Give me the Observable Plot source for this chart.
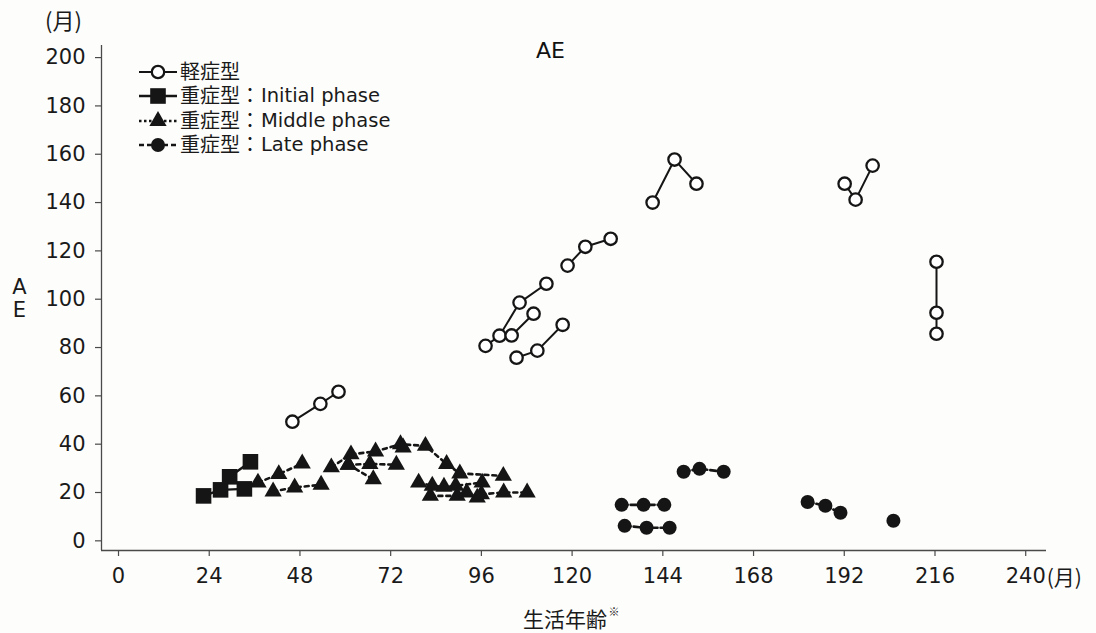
<!DOCTYPE html>
<html>
<head>
<meta charset="utf-8">
<script src="https://cdn.jsdelivr.net/npm/d3@7"></script>
<script src="https://cdn.jsdelivr.net/npm/@observablehq/plot@0.6"></script>
<style>
  html, body { margin: 0; padding: 0; background: #fdfdfb; }
  #wrap { position: relative; width: 1096px; height: 633px; }
  #legend { position: absolute; left: 138px; top: 59.5px; font-family: "DejaVu Sans", "Noto Sans CJK JP", sans-serif; color: #1a1a1a; }
  #legend .row { display: flex; align-items: center; height: 24.5px; white-space: nowrap; }
  #legend .cjk { font-size: 20px; line-height: 22px; }
  #legend .lat { font-size: 19.5px; line-height: 22px; font-family: "DejaVu Sans", sans-serif; padding-left: 1px; }
  #legend svg { display: block; flex: none; }
</style>
</head>
<body>
<div id="wrap"></div>
<script>
// ---- Data (months, AE in months) ----
const xTicks = [0, 24, 48, 72, 96, 120, 144, 168, 192, 216, 240];
const yTicks = [0, 20, 40, 60, 80, 100, 120, 140, 160, 180, 200];
const legendLabels = ["軽症型", "重症型：Initial phase", "重症型：Middle phase", "重症型：Late phase"];

// 軽症型 (mild), each inner array is one connected case
const mild = [
  [[46.0, 49.3], [53.4, 56.7], [58.2, 61.7]],
  [[97.1, 80.7], [100.8, 84.9], [106.1, 98.6], [113.2, 106.4]],
  [[104.0, 85.0], [109.8, 94.0]],
  [[105.3, 75.8], [110.8, 78.7], [117.5, 89.4]],
  [[118.8, 113.9], [123.5, 121.7], [130.2, 125.0]],
  [[141.3, 140.0], [147.1, 157.8], [152.9, 147.8]],
  [[192.1, 147.8], [195.0, 141.2], [199.5, 155.3]],
  [[216.4, 115.5], [216.4, 94.4], [216.4, 85.7]]
];

// 重症型 Initial phase
const initial = [
  [[22.5, 18.6], [27.0, 21.1], [33.3, 21.5]],
  [[29.4, 26.5], [34.9, 32.7]]
];

// 重症型 Middle phase
const middle = [
  [[36.9, 24.1], [42.4, 27.6], [48.6, 32.0]],
  [[40.9, 20.4], [46.6, 22.1], [53.6, 23.2]],
  [[56.3, 30.4], [61.5, 35.8], [68.0, 37.0], [74.6, 40.0], [81.2, 39.3], [86.8, 31.8], [90.3, 27.9], [101.8, 26.9]],
  [[60.8, 31.5], [66.5, 31.8], [73.5, 31.5]],
  [[60.8, 31.5], [67.4, 25.5]],
  [[75.3, 38.6]],
  [[79.4, 24.1], [83.0, 22.8], [86.1, 22.4], [89.2, 22.8], [96.2, 24.1]],
  [[82.5, 18.6], [89.6, 18.6], [92.1, 20.0], [94.9, 17.9]],
  [[96.0, 19.3], [101.9, 20.0], [108.1, 20.0]]
];

// 重症型 Late phase
const late = [
  [[133.1, 14.9], [138.9, 14.9], [144.4, 14.9]],
  [[133.9, 6.2], [139.7, 5.4], [145.8, 5.4]],
  [[149.5, 28.6], [153.7, 29.8], [160.1, 28.6]],
  [[182.3, 16.1], [187.0, 14.5], [191.0, 11.6]],
  [[205.0, 8.3]]
];

const rows = (series) => series.flatMap((s, g) => s.map(([m, v]) => ({g, m, v})));
const mildRows = rows(mild), initialRows = rows(initial), middleRows = rows(middle), lateRows = rows(late);

const INK = "#151515";
const AXIS = "#4a4a4a";
const TICKFONT = "DejaVu Sans";

const chart = Plot.plot({
  width: 1096,
  height: 633,
  marginLeft: 101,
  marginRight: 50,
  marginTop: 45,
  marginBottom: 83,
  x: {domain: [-4.5, 245.5]},
  y: {domain: [-4, 205]},
  style: {background: "transparent", fontFamily: TICKFONT, fontSize: "21px", color: "#1a1a1a"},
  marks: [
    Plot.axisX({ticks: xTicks, tickSize: 6, tickPadding: 12, label: null, stroke: AXIS, strokeWidth: 1.2, fontSize: 21, fontFamily: TICKFONT, tickFormat: d => String(d)}),
    Plot.axisY({ticks: yTicks, tickSize: 6, tickPadding: 10, label: null, stroke: AXIS, strokeWidth: 1.2, fontSize: 21, fontFamily: TICKFONT}),
    Plot.ruleX([-4.5], {stroke: AXIS, strokeWidth: 1.3}),
    Plot.ruleY([-4], {stroke: AXIS, strokeWidth: 1.3}),

    // lines
    Plot.line(mildRows, {x: "m", y: "v", z: "g", stroke: INK, strokeWidth: 2}),
    Plot.line(initialRows, {x: "m", y: "v", z: "g", stroke: INK, strokeWidth: 2.4}),
    Plot.line(middleRows, {x: "m", y: "v", z: "g", stroke: INK, strokeWidth: 2.6, strokeDasharray: "4,4"}),
    Plot.line(lateRows, {x: "m", y: "v", z: "g", stroke: INK, strokeWidth: 2.6, strokeDasharray: "6,3"}),

    // markers
    Plot.dot(middleRows, {x: "m", y: "v", symbol: "triangle", r: 6.4, fill: INK, stroke: "none"}),
    Plot.dot(initialRows, {x: "m", y: "v", symbol: "square", r: 8.8, fill: INK, stroke: "none"}),
    Plot.dot(lateRows, {x: "m", y: "v", r: 7, fill: INK, stroke: "none"}),
    Plot.dot(mildRows, {x: "m", y: "v", r: 6.2, fill: "white", stroke: INK, strokeWidth: 2.3}),

    // texts
    Plot.text(["AE"], {frameAnchor: "top", dx: -23.5, dy: 5, fontSize: 22, fontFamily: "DejaVu Sans", textAnchor: "middle", lineAnchor: "middle", fill: "#111"}),
    Plot.text(["(月)"], {frameAnchor: "top-left", dx: -38, dy: -24, fontSize: 22, fontFamily: "Noto Sans CJK JP", textAnchor: "middle", lineAnchor: "middle", fill: "#1a1a1a"}),
    Plot.text(["A\nE"], {frameAnchor: "left", dx: -82, dy: 0, fontSize: 21, fontFamily: "DejaVu Sans", lineHeight: 1.1, textAnchor: "middle", lineAnchor: "middle", fill: "#1a1a1a"}),
    Plot.text([240], {x: d => d, frameAnchor: "bottom", dx: 21, dy: 28, text: () => "(月)", fontSize: 21, fontFamily: "Noto Sans CJK JP", textAnchor: "start", lineAnchor: "middle", fill: "#1a1a1a"}),
    Plot.text(["生活年齢"], {frameAnchor: "bottom", dx: -9, dy: 70, fontSize: 21, fontFamily: "Noto Sans CJK JP", textAnchor: "middle", lineAnchor: "middle", fill: "#1a1a1a"}),
    Plot.text(["※"], {frameAnchor: "bottom", dx: 40, dy: 62, fontSize: 11, fontFamily: "Noto Sans CJK JP", textAnchor: "middle", lineAnchor: "middle", fill: "#1a1a1a"})
  ]
});

const wrap = document.getElementById("wrap");
wrap.appendChild(chart);

// legend (HTML overlay)
const legend = document.createElement("div");
legend.id = "legend";
const sym = [
  `<line x1="1" y1="12" x2="39" y2="12" stroke="${INK}" stroke-width="2"/><circle cx="20" cy="12" r="6.2" fill="white" stroke="${INK}" stroke-width="2.3"/>`,
  `<line x1="1" y1="12" x2="39" y2="12" stroke="${INK}" stroke-width="2.4"/><rect x="12.2" y="4.2" width="15.6" height="15.6" fill="${INK}"/>`,
  `<line x1="1" y1="12" x2="39" y2="12" stroke="${INK}" stroke-width="2.4" stroke-dasharray="2.5,2.5"/><path d="${d3.symbol(d3.symbolTriangle, Math.PI * 6.4 * 6.4)()}" transform="translate(20,12)" fill="${INK}"/>`,
  `<line x1="1" y1="12" x2="39" y2="12" stroke="${INK}" stroke-width="2.4" stroke-dasharray="5,3"/><circle cx="20" cy="12" r="7" fill="${INK}"/>`
];
legendLabels.forEach((lab, i) => {
  const [, cjk, lat] = lab.match(/^([^A-Za-z]*)(.*)$/);
  const row = document.createElement("div");
  row.className = "row";
  row.innerHTML = `<svg width="42" height="24" viewBox="0 0 42 24">${sym[i]}</svg><span class="cjk">${cjk}</span>` + (lat ? `<span class="lat">${lat}</span>` : "");
  legend.appendChild(row);
});
wrap.appendChild(legend);
</script>
</body>
</html>
